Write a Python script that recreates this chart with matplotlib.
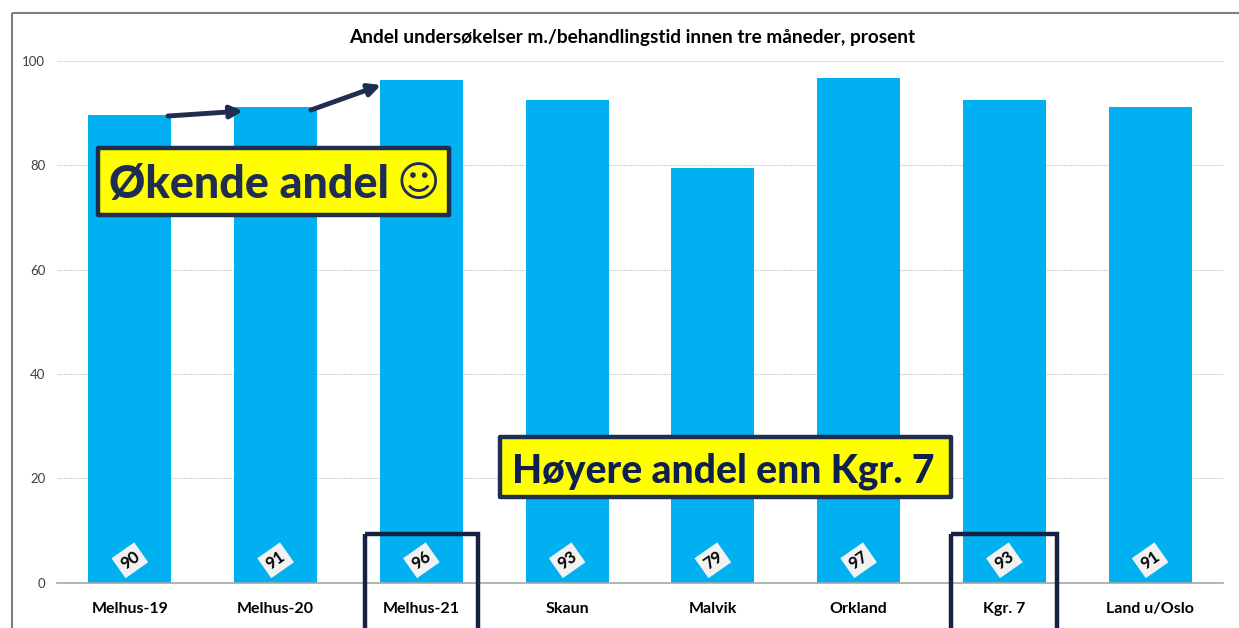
import matplotlib
matplotlib.use("Agg")
import matplotlib.pyplot as plt
from matplotlib.patches import Rectangle, FancyArrowPatch
from matplotlib.transforms import Affine2D

categories = ["Melhus-19", "Melhus-20", "Melhus-21", "Skaun", "Malvik", "Orkland", "Kgr. 7", "Land u/Oslo"]
values = [89.7, 91.2, 96.3, 92.5, 79.5, 96.7, 92.5, 91.2]
labels = ["90", "91", "96", "93", "79", "97", "93", "91"]
yticks = [0, 20, 40, 60, 80, 100]

W, H = 1239, 628
NAVY = "#1F2D50"
BLUE = "#00B0F0"

plt.rcParams["font.family"] = ["Lato", "DejaVu Sans"]

fig = plt.figure(figsize=(W / 100, H / 100), dpi=100)
ax = fig.add_axes([57 / W, 1 - 582.5 / H, (1223 - 57) / W, (582.5 - 61) / H])

# pixel coordinates for the shapes drawn over the chart
px = Affine2D().scale(1 / W, -1 / H).translate(0, 1) + fig.transFigure

# outer chart frame
fig.add_artist(Rectangle((12, 13), 1240, 640, transform=px, fill=False, ec="#7F7F7F", lw=1.5))

x = range(len(categories))
ax.bar(x, values, width=0.57, color=BLUE, zorder=2)
ax.set_xlim(-0.5, 7.5)
ax.set_ylim(0, 100)
ax.set_yticks(yticks)
ax.set_xticks(list(x))
ax.set_xticklabels(categories, fontsize=11.5, fontweight="bold", color="black")
ax.tick_params(axis="both", length=0)
ax.tick_params(axis="y", labelsize=9.5, labelcolor="#404040", pad=8.5)
ax.tick_params(axis="x", pad=14)
ax.grid(axis="y", color="#BFBFBF", linestyle=(0, (1, 1)), linewidth=0.8, zorder=1)
for s in ["top", "right", "left"]:
    ax.spines[s].set_visible(False)
ax.spines["bottom"].set_color("#A6A6A6")
ax.spines["bottom"].set_linewidth(1.2)
ax.spines["bottom"].set_zorder(3)

# rotated value labels near the base of each bar
for i, lab in zip(x, labels):
    ax.annotate(lab, (i, 0), xytext=(0, 16), textcoords="offset points", ha="center", va="center",
                rotation=35, rotation_mode="anchor", fontsize=12, fontweight="bold", color="black",
                bbox=dict(boxstyle="square,pad=0.25", fc="#F2F2F2", ec="none"), zorder=4)

fig.text(632 / W, 1 - 37 / H, "Andel undersøkelser m./behandlingstid innen tre måneder, prosent",
         ha="center", va="center", fontsize=13.7, fontweight="bold", color="black")

# rise arrows between the Melhus bars
for start, end in [((168, 116), (243, 111)), ((311, 110), (381, 85))]:
    fig.add_artist(FancyArrowPatch(start, end, transform=px, arrowstyle="-|>", mutation_scale=18,
                                   lw=3.5, color=NAVY, shrinkA=0, shrinkB=0, zorder=5))

# highlight frames, running off the bottom of the picture
for x0, x1 in [(365, 478), (951, 1057)]:
    fig.add_artist(Rectangle((x0, 534), x1 - x0, 120, transform=px, fill=False, ec="#172243", lw=3.2, zorder=5))

# yellow callouts
for (x0, y0, x1, y1), txt, tx, size, col in [
    ((98, 148, 449, 215), "Økende andel", 109, 32.3, NAVY),
    ((500, 437, 951, 497), "Høyere andel enn Kgr. 7", 512, 28.1, "#0F2050"),
]:
    fig.add_artist(Rectangle((x0, y0), x1 - x0, y1 - y0, transform=px, fc="#FFFF00", ec=NAVY, lw=3.2,
                             joinstyle="round", zorder=6))
    fig.text(tx / W, 1 - (y0 + y1) / 2 / H, txt, ha="left", va="center_baseline", fontsize=size,
             fontweight=900, color=col, zorder=7)

fig.text(418 / W, 1 - 184 / H, "☺", ha="center", va="center", fontsize=30, family="DejaVu Sans",
         color=NAVY, zorder=7)

fig.savefig("out.png", dpi=100)
